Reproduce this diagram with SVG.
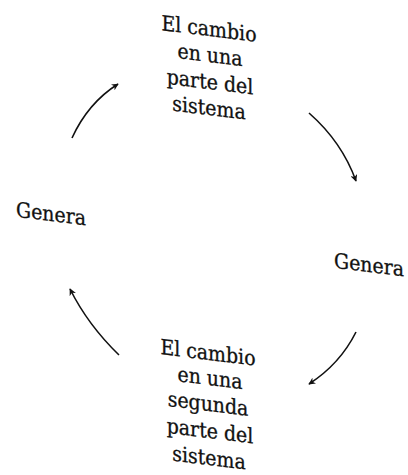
<svg xmlns="http://www.w3.org/2000/svg" width="408" height="475" viewBox="0 0 408 475">
<style>
  .t { font-family: "DejaVu Serif Condensed", "DejaVu Serif", "Liberation Serif", serif; font-stretch: condensed; font-size: 21px; fill: #111111; stroke: #111111; stroke-width: 0.3; text-anchor: middle; }
  .c { fill: none; stroke: #111111; stroke-width: 1.6; marker-end: url(#ah); }
</style>
<defs>
  <marker id="ah" viewBox="0 0 10 10" refX="9" refY="5" markerWidth="7" markerHeight="7" orient="auto" markerUnits="userSpaceOnUse">
    <path d="M0,0 L10,5 L0,10 L3,5 Z" fill="#111111"/>
  </marker>
</defs>
<rect width="408" height="475" fill="#ffffff"/>
<g id="node-top" transform="translate(209 0) skewY(7) translate(-209 0)">
  <text class="t" x="209" y="36">El cambio</text>
  <text class="t" x="210" y="62">en una</text>
  <text class="t" x="210" y="89">parte del</text>
  <text class="t" x="209" y="115">sistema</text>
</g>
<g id="node-right" transform="translate(369 0) skewY(7) translate(-369 0)">
  <text class="t" x="369" y="272">Genera</text>
</g>
<g id="node-bottom" transform="translate(209 0) skewY(7) translate(-209 0)">
  <text class="t" x="208" y="360">El cambio</text>
  <text class="t" x="210" y="385">en una</text>
  <text class="t" x="208" y="411">segunda</text>
  <text class="t" x="210" y="438">parte del</text>
  <text class="t" x="209" y="465">sistema</text>
</g>
<g id="node-left" transform="translate(51 0) skewY(7) translate(-51 0)">
  <text class="t" x="51" y="221">Genera</text>
</g>
<g id="connectors">
  <path class="c" d="M72,138 Q88,103 118,84"/>
  <path class="c" d="M309,113 Q342,142 356,181"/>
  <path class="c" d="M356,332 Q340,364 309,384"/>
  <path class="c" d="M119,355 Q88,325 70,289"/>
</g>
</svg>
